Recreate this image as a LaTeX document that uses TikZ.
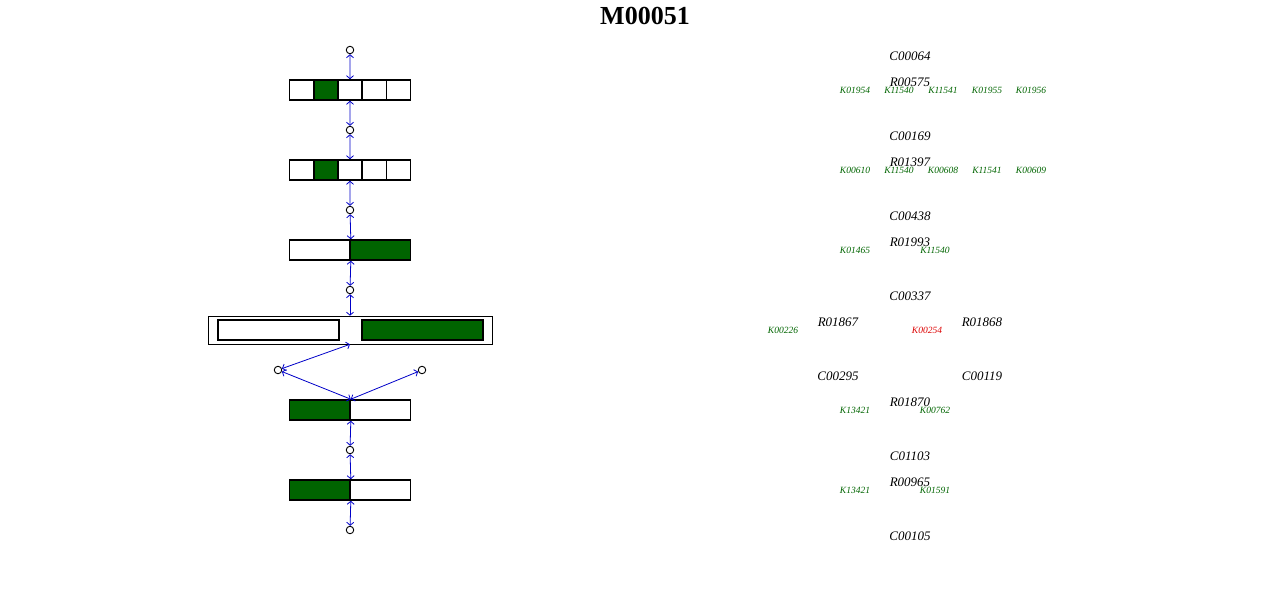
\documentclass[tikz,border=0pt]{standalone}
\usepackage{fontspec}
\setmainfont{Liberation Serif}
\usetikzlibrary{arrows.meta}
\definecolor{kgreen}{RGB}{0,100,0}
\definecolor{kred}{RGB}{220,0,0}
\definecolor{rxnblue}{RGB}{0,0,200}

\begin{document}
\begin{tikzpicture}[x=1pt, y=-1pt,
    cell/.style={draw, line width=1.6pt, minimum width=24.2pt, minimum height=20pt, inner sep=0pt},
    half/.style={draw, line width=1.6pt, minimum width=60.5pt, minimum height=20pt, inner sep=0pt},
    wide/.style={draw, line width=1.6pt, minimum width=121pt, minimum height=20pt, inner sep=0pt},
    active/.style={fill=kgreen},
    cpd/.style={draw, circle, minimum size=7.5pt, inner sep=0pt, line width=0.9pt},
    rxn/.style={rxnblue, line width=0.8pt, {Straight Barb[length=3pt,width=7pt]}-{Straight Barb[length=3pt,width=7pt]}},
    cid/.style={font=\fontsize{13}{13}\selectfont\itshape},
    kid/.style={font=\fontsize{9.5}{9.5}\selectfont\itshape, text=kgreen},
]
    \useasboundingbox (0,0) rectangle (1280,600);

    % Title
    \node[font=\fontsize{26}{26}\selectfont\bfseries] (title) at (645,16) {M00051};

    % Compounds
    \foreach \n/\y in {1/50, 2/130, 3/210, 4/290, 6/450, 7/530}
        \node[cpd] (c\n) at (350,\y) {};
    \node[cpd] (c5a) at (278,370) {};
    \node[cpd] (c5b) at (422,370) {};

    % Five-cell blocks
    \foreach \i in {1,...,5} {
        \node[cell] (b1-\i) at ({289.5+24.2*(\i-0.5)},90) {};
        \node[cell] (b2-\i) at ({289.5+24.2*(\i-0.5)},170) {};
    }
    \node[cell, active] at (b1-2) {};
    \node[cell, active] at (b2-2) {};

    % Two-part blocks
    \node[half] (b3-1) at (319.75,250) {};
    \node[half, active] (b3-2) at (380.25,250) {};
    \node[half, active] (b5-1) at (319.75,410) {};
    \node[half] (b5-2) at (380.25,410) {};
    \node[half, active] (b6-1) at (319.75,490) {};
    \node[half] (b6-2) at (380.25,490) {};

    % Branch block
    \node[draw, line width=0.6pt, minimum width=284pt, minimum height=28pt, inner sep=0pt] (b4) at (350,330) {};
    \node[wide] (b4-1) at (278.5,330) {};
    \node[wide, active] (b4-2) at (422.5,330) {};

    % Reactions
    \draw[rxn] (c1) -- (b1-3.north);
    \draw[rxn] (b1-3.south) -- (c2);
    \draw[rxn] (c2) -- (b2-3.north);
    \draw[rxn] (b2-3.south) -- (c3);
    \draw[rxn] (c3) -- (b3-1.north east);
    \draw[rxn] (b3-1.south east) -- (c4);
    \draw[rxn] (c4) -- (b4.north);
    \draw[rxn] (b4.south) -- (c5a);
    \draw[rxn] (c5a) -- (b5-1.north east);
    \draw[rxn] (b5-1.north east) -- (c5b);
    \draw[rxn] (b5-1.south east) -- (c6);
    \draw[rxn] (c6) -- (b6-1.north east);
    \draw[rxn] (b6-1.south east) -- (c7);

    % Compound labels
    \node[cid] (C00064) at (910,56) {C00064};
    \node[cid] (C00169) at (910,136) {C00169};
    \node[cid] (C00438) at (910,216) {C00438};
    \node[cid] (C00337) at (910,296) {C00337};
    \node[cid] (C00295) at (838,376) {C00295};
    \node[cid] (C00119) at (982,376) {C00119};
    \node[cid] (C01103) at (910,456) {C01103};
    \node[cid] (C00105) at (910,536) {C00105};

    % Reaction labels
    \node[cid] (R00575) at (910,82) {R00575};
    \node[cid] (R01397) at (910,162) {R01397};
    \node[cid] (R01993) at (910,242) {R01993};
    \node[cid] (R01867) at (838,322) {R01867};
    \node[cid] (R01868) at (982,322) {R01868};
    \node[cid] (R01870) at (910,402) {R01870};
    \node[cid] (R00965) at (910,482) {R00965};

    % Orthologs
    \foreach \k/\x in {K01954/855, K11540/899, K11541/943, K01955/987, K01956/1031}
        \node[kid] (\k-a) at (\x,90.5) {\k};
    \foreach \k/\x in {K00610/855, K11540/899, K00608/943, K11541/987, K00609/1031}
        \node[kid] (\k-b) at (\x,170.5) {\k};
    \node[kid] (K01465) at (855,250.5) {K01465};
    \node[kid] (K11540-c) at (935,250.5) {K11540};
    \node[kid] (K00226) at (783,330.5) {K00226};
    \node[kid, text=kred] (K00254) at (927,330.5) {K00254};
    \node[kid] (K13421-a) at (855,410.5) {K13421};
    \node[kid] (K00762) at (935,410.5) {K00762};
    \node[kid] (K13421-b) at (855,490.5) {K13421};
    \node[kid] (K01591) at (935,490.5) {K01591};
\end{tikzpicture}
\end{document}
